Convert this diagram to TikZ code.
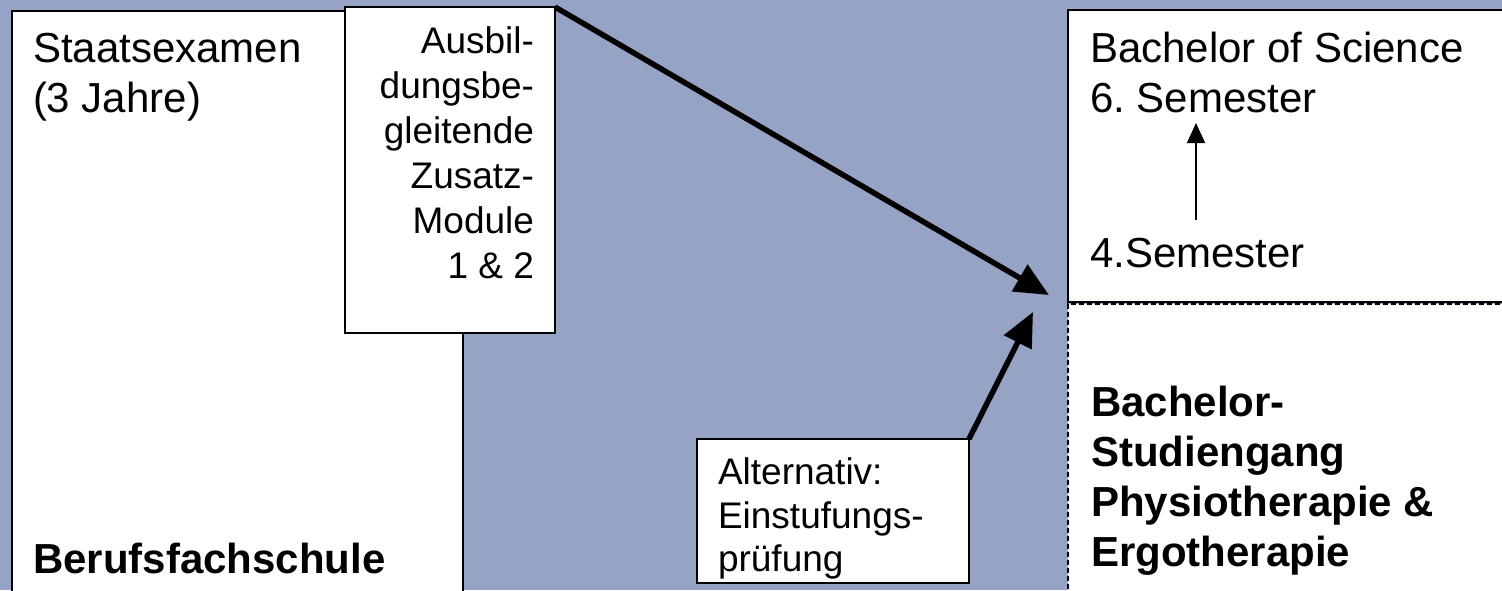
\documentclass[tikz,border=0pt]{standalone}
\usepackage{fontspec}
\setmainfont{Liberation Sans}
\usetikzlibrary{arrows.meta}
\definecolor{bg}{HTML}{97A3C4}
\frenchspacing
\begin{document}
\begin{tikzpicture}[x=1pt,y=-1pt,
  box/.style={draw=black, line width=2pt, fill=white, inner sep=0pt, outer sep=0pt, anchor=north west},
  dbox/.style={box, line width=1.8pt, dash pattern=on 5pt off 3pt},
  big/.style={font=\fontsize{42}{50}\selectfont, inner sep=0pt, outer sep=0pt},
  bigb/.style={font=\fontsize{42}{50}\selectfont\bfseries, inner sep=0pt, outer sep=0pt},
  small/.style={font=\fontsize{37}{45}\selectfont, inner sep=0pt, outer sep=0pt},
  smallalt/.style={font=\fontsize{37}{43.5}\selectfont, inner sep=0pt, outer sep=0pt},
  thickarrow/.style={line width=5.5pt, -{Triangle[length=34pt,width=30pt]}},
  thinarrow/.style={line width=1.5pt, -{Triangle[length=20pt,width=18pt]}}]
\useasboundingbox (0,0) rectangle (1502,590);
\clip (0,0) rectangle (1502,590);
\fill[bg] (0,0) rectangle (1502,590);
% boxes
\node[box, minimum width=451pt, minimum height=620pt] (lbox) at (12,11) {};
\node[box, minimum width=210pt, minimum height=326pt] (abox) at (345,7) {};
\node[box, minimum width=500pt, minimum height=292pt] (rtbox) at (1068,10) {};
\node[dbox, minimum width=500pt, minimum height=400pt] (rbbox) at (1068,304) {};
\node[box, minimum width=272pt, minimum height=144pt] (altbox) at (697,439) {};
% texts
\node[big, anchor=north west, align=left] (staat) at (33,27) {\strut Staatsexamen\\\strut (3 Jahre)};
\node[bigb, anchor=base west] (beruf) at (33,573) {Berufsfachschule};
\node[small, anchor=north east, align=right] (ausb) at (534,21.5) {\strut Ausbil-\\\strut dungsbe-\\\strut gleitende\\\strut Zusatz-\\\strut Module\\\strut 1 \& 2};
\node[big, anchor=north west, align=left] (bsc) at (1090,27) {\strut Bachelor of Science\\\strut 6. Semester};
\node[big, anchor=base west] (vier) at (1090,267) {4.Semester};
\node[bigb, anchor=north west, align=left] (bstud) at (1091,381) {\strut Bachelor-\\\strut Studiengang\\\strut Physiotherapie \&\\\strut Ergotherapie};
\node[smallalt, anchor=north west, align=left] (alt) at (718,454.5) {\strut Alternativ:\\\strut Einstufungs-\\\strut prüfung};
% connectors
\coordinate (tip1) at (1049,295);
\coordinate (tip2) at (1033,312);
\coordinate (semlow) at (1196,220);
\coordinate (semhigh) at (1196,123);
\draw[thickarrow] (abox.north east) -- (tip1);
\draw[thickarrow] (altbox.north east) -- (tip2);
\draw[thinarrow] (semlow) -- (semhigh);
\end{tikzpicture}
\end{document}
